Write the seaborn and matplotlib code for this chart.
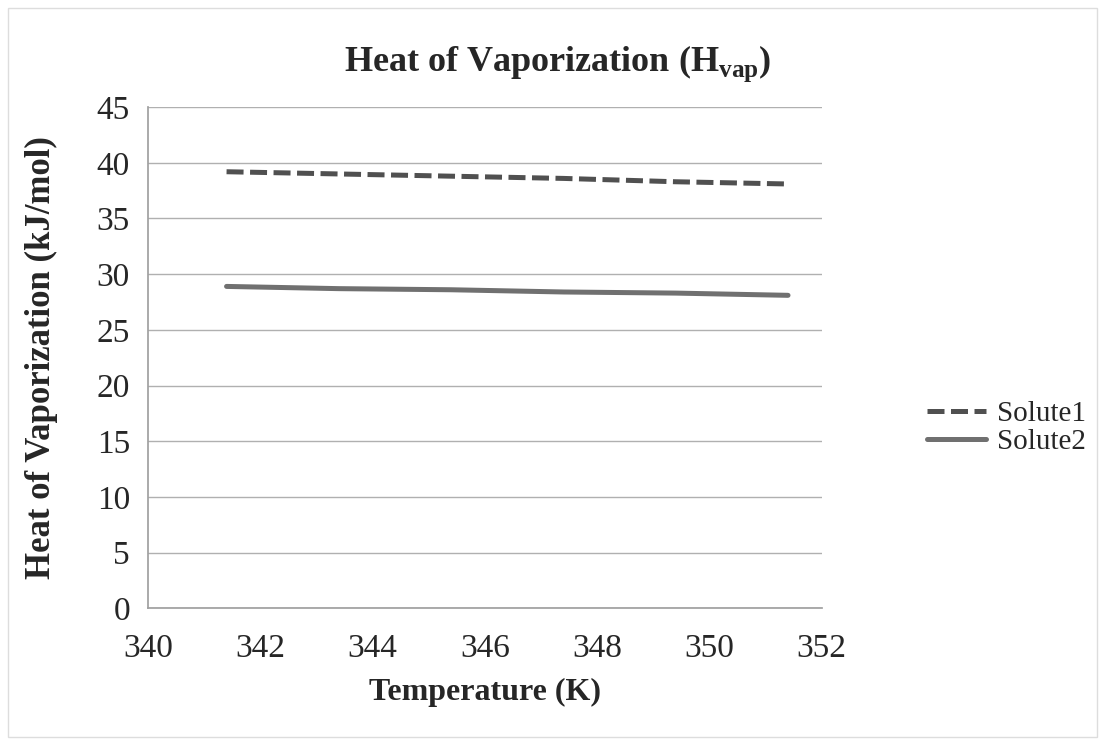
import matplotlib.pyplot as plt
import pandas as pd
import seaborn as sns

temperature = [341.4, 343.4, 345.4, 347.4, 349.4, 351.4]
solute1 = [39.2, 39.0, 38.8, 38.6, 38.3, 38.1]
solute2 = [28.9, 28.7, 28.6, 28.4, 28.3, 28.1]
series_names = ["Solute1", "Solute2"]

df = pd.DataFrame({
    "T": temperature * 2,
    "H": solute1 + solute2,
    "series": [series_names[0]] * len(temperature) + [series_names[1]] * len(temperature),
})

sns.set_theme(style="white")
plt.rcParams["font.family"] = ["Liberation Serif", "DejaVu Serif"]
plt.rcParams["mathtext.fontset"] = "custom"
plt.rcParams["mathtext.bf"] = "Liberation Serif:bold"
plt.rcParams["mathtext.rm"] = "Liberation Serif"

fig = plt.figure(figsize=(11, 7.39), dpi=100)
ax = fig.add_axes([0.1345, 0.177, 0.6125, 0.678])

sns.lineplot(data=df, x="T", y="H", hue="series", style="series",
             palette={"Solute1": "#505050", "Solute2": "#707070"},
             dashes={"Solute1": (3.4, 1.3), "Solute2": ""},
             linewidth=3.6, ax=ax)

ax.set_xlim(340, 352)
ax.set_ylim(0, 45)
ax.set_xticks(range(340, 353, 2))
ax.set_yticks(range(0, 46, 5))
ax.tick_params(axis="x", labelsize=24, length=0, pad=18)
ax.tick_params(axis="y", labelsize=24, length=0, pad=13)
ax.grid(axis="y", color="#b0b0b0", linewidth=1)
for side in ["top", "right"]:
    ax.spines[side].set_visible(False)
for side in ["left", "bottom"]:
    ax.spines[side].set_color("#a0a0a0")

ax.set_xlabel("Temperature (K)", fontsize=23, fontweight="bold", labelpad=10)
ax.set_ylabel("Heat of Vaporization (kJ/mol)", fontsize=25, fontweight="bold", labelpad=28)
fig.text(0.507, 0.913, r"Heat of Vaporization (H$_{\mathbf{vap}}$)", fontsize=26,
         fontweight="bold", ha="center", va="center")

handles, labels = ax.get_legend_handles_labels()
ax.legend(handles, labels, loc="center left", bbox_to_anchor=(1.118, 0.36),
          frameon=False, fontsize=21, handlelength=2.0, labelspacing=0.05,
          handletextpad=0.4)

fig.patches.append(plt.Rectangle((0.007, 0.003), 0.99, 0.986, fill=False,
                                 edgecolor="#dddddd", linewidth=1,
                                 transform=fig.transFigure))

fig.savefig("out.png", dpi=100)
